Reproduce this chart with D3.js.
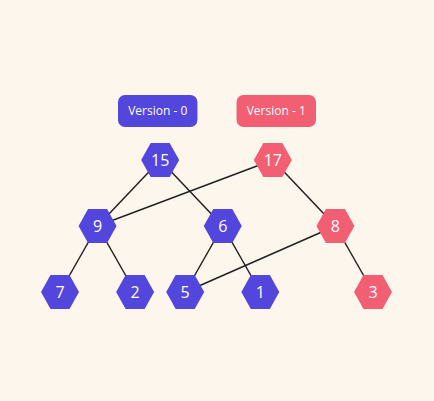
<!DOCTYPE html>
<html>
<head>
<meta charset="UTF-8" />
<style>
  body { margin: 0; background: #fdf6ec; }
  svg { display: block; }
</style>
</head>
<body>
<svg></svg>
<script src="https://d3js.org/d3.v7.min.js"></script>
<script>
let width = 434, height = 401;

// node data: label, version, tree level, horizontal slot
let labels   = ["15", "17", "9", "6", "8", "7", "2", "5", "1", "3"];
let versions = [0, 1, 0, 0, 1, 0, 0, 0, 0, 1];
let levels   = [0, 0, 1, 1, 1, 2, 2, 2, 2, 2];
let slots    = [3.2, 6.8, 1.2, 5.2, 8.8, 0, 2.4, 4.0, 6.4, 10];
let links = [["15","9"],["15","6"],["17","9"],["17","8"],["9","7"],["9","2"],
             ["6","5"],["6","1"],["8","5"],["8","3"]];
let legend = ["Version - 0", "Version - 1"];

let colors = ["#5346dd", "#f25f72"];

let svg = d3.select("svg").attr("width", width).attr("height", height);
svg.append("rect").attr("width", width).attr("height", height).attr("fill", "#fdf6ec");

let x = d3.scaleLinear().domain([0, 10]).range([60, 373]);
let y = d3.scaleLinear().domain([0, 2]).range([160, 292]);
let lx = d3.scaleBand().domain(legend).range([118, 316]).paddingInner(0.33);

let nodes = labels.map((l, i) => ({ id: l, v: versions[i], x: x(slots[i]), y: y(levels[i]) }));
let byId = {};
nodes.forEach(n => byId[n.id] = n);

// legend pills
let lg = svg.append("g").selectAll("g").data(legend).join("g")
  .attr("transform", d => `translate(${lx(d)},95)`);
lg.append("rect").attr("width", lx.bandwidth()).attr("height", 32).attr("rx", 7)
  .attr("fill", (d, i) => colors[i]);
lg.append("text").attr("x", lx.bandwidth() / 2).attr("y", 16).attr("dy", "0.35em")
  .attr("text-anchor", "middle").attr("fill", "white")
  .attr("font-family", "Open Sans, sans-serif").attr("font-size", 12)
  .text(d => d);

// edges
svg.append("g").selectAll("line").data(links).join("line")
  .attr("x1", d => byId[d[0]].x).attr("y1", d => byId[d[0]].y)
  .attr("x2", d => byId[d[1]].x).attr("y2", d => byId[d[1]].y)
  .attr("stroke", "#222").attr("stroke-width", 1.5);

// hexagons
let hex = "M-19,0L-9.5,-17L9.5,-17L19,0L9.5,17L-9.5,17Z";
let ng = svg.append("g").selectAll("g").data(nodes).join("g")
  .attr("transform", d => `translate(${d.x},${d.y})`);
ng.append("path").attr("d", hex).attr("fill", d => colors[d.v]);
ng.append("text").attr("dy", "0.36em").attr("text-anchor", "middle")
  .attr("fill", "white").attr("font-family", "Open Sans, sans-serif").attr("font-size", 16)
  .text(d => d.id);
</script>
</body>
</html>
